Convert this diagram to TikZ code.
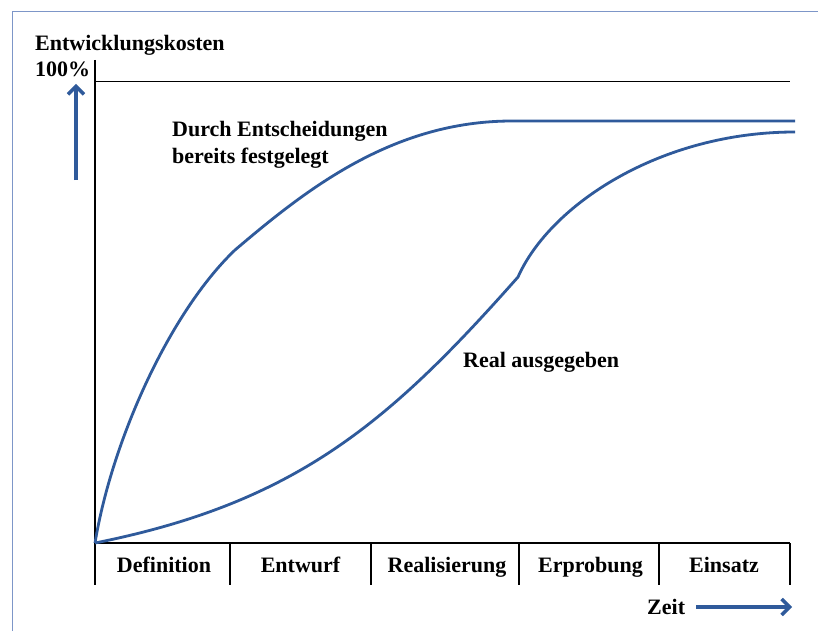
\documentclass[tikz,border=0pt]{standalone}
\usepackage{fontspec}
\setmainfont{Liberation Serif}
\usetikzlibrary{arrows.meta}
\definecolor{curveblue}{RGB}{47,90,155}
\definecolor{framblue}{RGB}{125,150,200}
\tikzset{
  lbl/.style={font=\fontsize{22}{25}\selectfont\bfseries, inner sep=0pt},
  axisline/.style={black, line width=1.4pt},
  curve/.style={curveblue, line width=2.8pt},
  bluearrow/.style={curveblue, line width=3.5pt, -{Straight Barb[length=8pt,width=16pt,line width=3.5pt]}}
}
\begin{document}
\begin{tikzpicture}[x=1pt,y=-1pt]
\useasboundingbox (0,0) rectangle (818,631);
\fill[white] (0,0) rectangle (818,631);
% frame
\draw[framblue, line width=1pt] (12,631) -- (12,12) -- (818,12);
% axes
\coordinate (ytop) at (95,60);
\coordinate (orig) at (95,543);
\coordinate (tl) at (95,81.5);
\coordinate (tr) at (790,81.5);
\coordinate (br) at (790,543);
\draw[axisline] (ytop) -- (orig) -- (br);
\draw[axisline] (tl) -- (tr);
% phase ticks
\foreach \x [count=\i] in {95,230,371,519,659,790} {
  \coordinate (t\i) at (\x,543);
  \draw[axisline] (t\i) -- ++(0,42);
}
\node[lbl, anchor=base] (ph1) at (164,572) {Definition};
\node[lbl, anchor=base] (ph2) at (300.5,572) {Entwurf};
\node[lbl, anchor=base] (ph3) at (447,572) {Realisierung};
\node[lbl, anchor=base] (ph4) at (590.5,572) {Erprobung};
\node[lbl, anchor=base] (ph5) at (724,572) {Einsatz};
% labels
\node[lbl, anchor=base west] (ylab) at (35,51) {Entwicklungskosten};
\node[lbl, anchor=base west] (hund) at (35,77) {100\%};
\node[lbl, anchor=base west] (zeit) at (647,614) {Zeit};
\coordinate (ya0) at (76,180);
\coordinate (ya1) at (76,84);
\draw[bluearrow] (ya0) -- (ya1);
\coordinate (xa0) at (696,607);
\coordinate (xa1) at (792,607);
\draw[bluearrow] (xa0) -- (xa1);
\node[lbl, anchor=base west] (dec1) at (172,137) {Durch Entscheidungen};
\node[lbl, anchor=base west] (dec2) at (172,164) {bereits festgelegt};
\node[lbl, anchor=base west] (real) at (463,367) {Real ausgegeben};
% curves
\coordinate (c1a) at (235,250);
\coordinate (c1b) at (512,121);
\coordinate (c1e) at (795,121);
\draw[curve] (orig) .. controls (112,440) and (170,312) .. (c1a)
  .. controls (305,190.5) and (392,121) .. (c1b) -- (c1e);
\coordinate (c2a) at (518,277);
\coordinate (c2e) at (795,132);
\draw[curve] (orig) .. controls (295,503) and (388,424) .. (c2a)
  .. controls (550,205) and (660,132) .. (c2e);
\end{tikzpicture}
\end{document}
